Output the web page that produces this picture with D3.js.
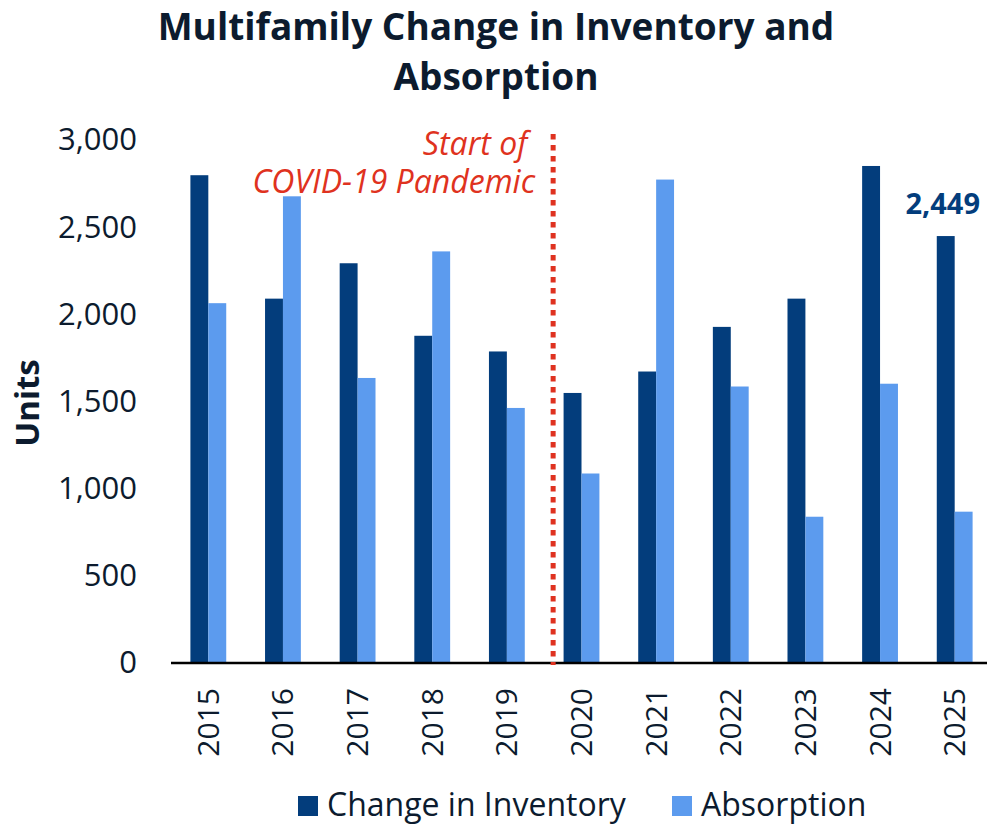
<!DOCTYPE html>
<html>
<head>
<meta charset="utf-8">
<script src="https://cdn.jsdelivr.net/npm/d3@7"></script>
<style>
  body { margin: 0; background: white; }
  text { font-family: "Open Sans", "Noto Sans", sans-serif; }
</style>
</head>
<body>
<svg id="graph"></svg>
<script>
const width = 987;
const height = 824;

// data
const years = ["2015", "2016", "2017", "2018", "2019", "2020", "2021", "2022", "2023", "2024", "2025"];
const inventory = [2798, 2090, 2293, 1877, 1787, 1549, 1672, 1928, 2090, 2851, 2449];
const absorption = [2064, 2677, 1635, 2361, 1463, 1087, 2773, 1586, 839, 1602, 868];
const seriesNames = ["Change in Inventory", "Absorption"];
const yTicks = [0, 500, 1000, 1500, 2000, 2500, 3000];

const darkBlue = "#033d7c";
const lightBlue = "#5c9bee";
const textColor = "#0c1b2e";
const red = "#df3220";

let svg = d3.select('#graph')
        .attr('width', width)
        .attr('height', height);

let x0 = d3.scaleBand().domain(years).range([171, 992]).paddingInner(0.52).paddingOuter(0.26);
let x1 = d3.scaleBand().domain(seriesNames).range([0, x0.bandwidth()]);
let y = d3.scaleLinear().domain([0, 3000]).range([663, 140]);

// title
svg.append("text")
        .attr("x", 496).attr("y", 40)
        .attr("text-anchor", "middle")
        .style("font-size", "37px").style("font-weight", "bold")
        .style("fill", textColor)
        .text("Multifamily Change in Inventory and");
svg.append("text")
        .attr("x", 496).attr("y", 90)
        .attr("text-anchor", "middle")
        .style("font-size", "37px").style("font-weight", "bold")
        .style("fill", textColor)
        .text("Absorption");

// y axis labels
let yAxis = d3.axisLeft(y).tickValues(yTicks).tickFormat(d3.format(",")).tickSize(0).tickPadding(0);
let yg = svg.append("g").attr("transform", "translate(137,0)").call(yAxis);
yg.select(".domain").remove();
yg.selectAll("text")
        .style("font-size", "31px")
        .style("fill", textColor)
        .style("font-family", "'Open Sans', sans-serif");

svg.append("text")
        .attr("transform", "translate(39,403) rotate(-90)")
        .attr("text-anchor", "middle")
        .style("font-size", "33px").style("font-weight", "bold")
        .style("fill", textColor)
        .text("Units");

// bars
let groups = svg.append("g").selectAll("g")
        .data(years)
        .join("g")
        .attr("transform", d => "translate(" + x0(d) + ",0)");

groups.append("rect")
        .attr("x", x1(seriesNames[0]))
        .attr("y", (d, i) => y(inventory[i]))
        .attr("width", x1.bandwidth())
        .attr("height", (d, i) => y(0) - y(inventory[i]))
        .style("fill", darkBlue);

groups.append("rect")
        .attr("x", x1(seriesNames[1]))
        .attr("y", (d, i) => y(absorption[i]))
        .attr("width", x1.bandwidth())
        .attr("height", (d, i) => y(0) - y(absorption[i]))
        .style("fill", lightBlue);

// label on last bar
let last = years.length - 1;
svg.append("text")
        .attr("x", x0(years[last]) + x1(seriesNames[0]) + x1.bandwidth() / 2 - 3)
        .attr("y", y(inventory[last]) - 22)
        .attr("text-anchor", "middle")
        .style("font-size", "29px").style("font-weight", "bold")
        .style("fill", darkBlue)
        .text(d3.format(",")(inventory[last]));

// x axis
let xAxis = d3.axisBottom(x0).tickSize(0).tickPadding(0);
let xg = svg.append("g").attr("transform", "translate(0," + y(0) + ")").call(xAxis);
xg.select(".domain").remove();
xg.selectAll("text")
        .attr("transform", "rotate(-90)")
        .attr("x", -25).attr("y", 0).attr("dy", "0.35em")
        .attr("text-anchor", "end")
        .style("font-size", "30px")
        .style("fill", textColor)
        .style("font-family", "'Open Sans', sans-serif");

svg.append("line")
        .attr("x1", 171).attr("x2", width)
        .attr("y1", y(0)).attr("y2", y(0))
        .style("stroke", "black").style("stroke-width", 2.5);

// covid marker
let covidX = x0("2019") + x0.bandwidth() / 2 + 0.62 * x0.step();
svg.append("line")
        .attr("x1", covidX).attr("x2", covidX)
        .attr("y1", y(3035)).attr("y2", y(0) + 2)
        .style("stroke", red).style("stroke-width", 5)
        .style("stroke-dasharray", "5.5,5.5");

svg.append("text")
        .attr("x", covidX - 26).attr("y", 155)
        .attr("text-anchor", "end")
        .style("font-size", "32px").style("font-style", "italic")
        .style("fill", red)
        .text("Start of");
svg.append("text")
        .attr("x", covidX - 18).attr("y", 193)
        .attr("text-anchor", "end")
        .style("font-size", "32px").style("font-style", "italic")
        .style("fill", red)
        .text("COVID-19 Pandemic");

// legend
let legendItems = [
        {name: seriesNames[0], color: darkBlue, x: 298},
        {name: seriesNames[1], color: lightBlue, x: 672}
];
let legend = svg.append("g").selectAll("g")
        .data(legendItems)
        .join("g")
        .attr("transform", d => "translate(" + d.x + ",796)");
legend.append("rect")
        .attr("x", 0).attr("y", 0)
        .attr("width", 20).attr("height", 20)
        .style("fill", d => d.color);
legend.append("text")
        .attr("x", 29).attr("y", 20)
        .style("font-size", "32px")
        .style("fill", textColor)
        .text(d => d.name);
</script>
</body>
</html>
